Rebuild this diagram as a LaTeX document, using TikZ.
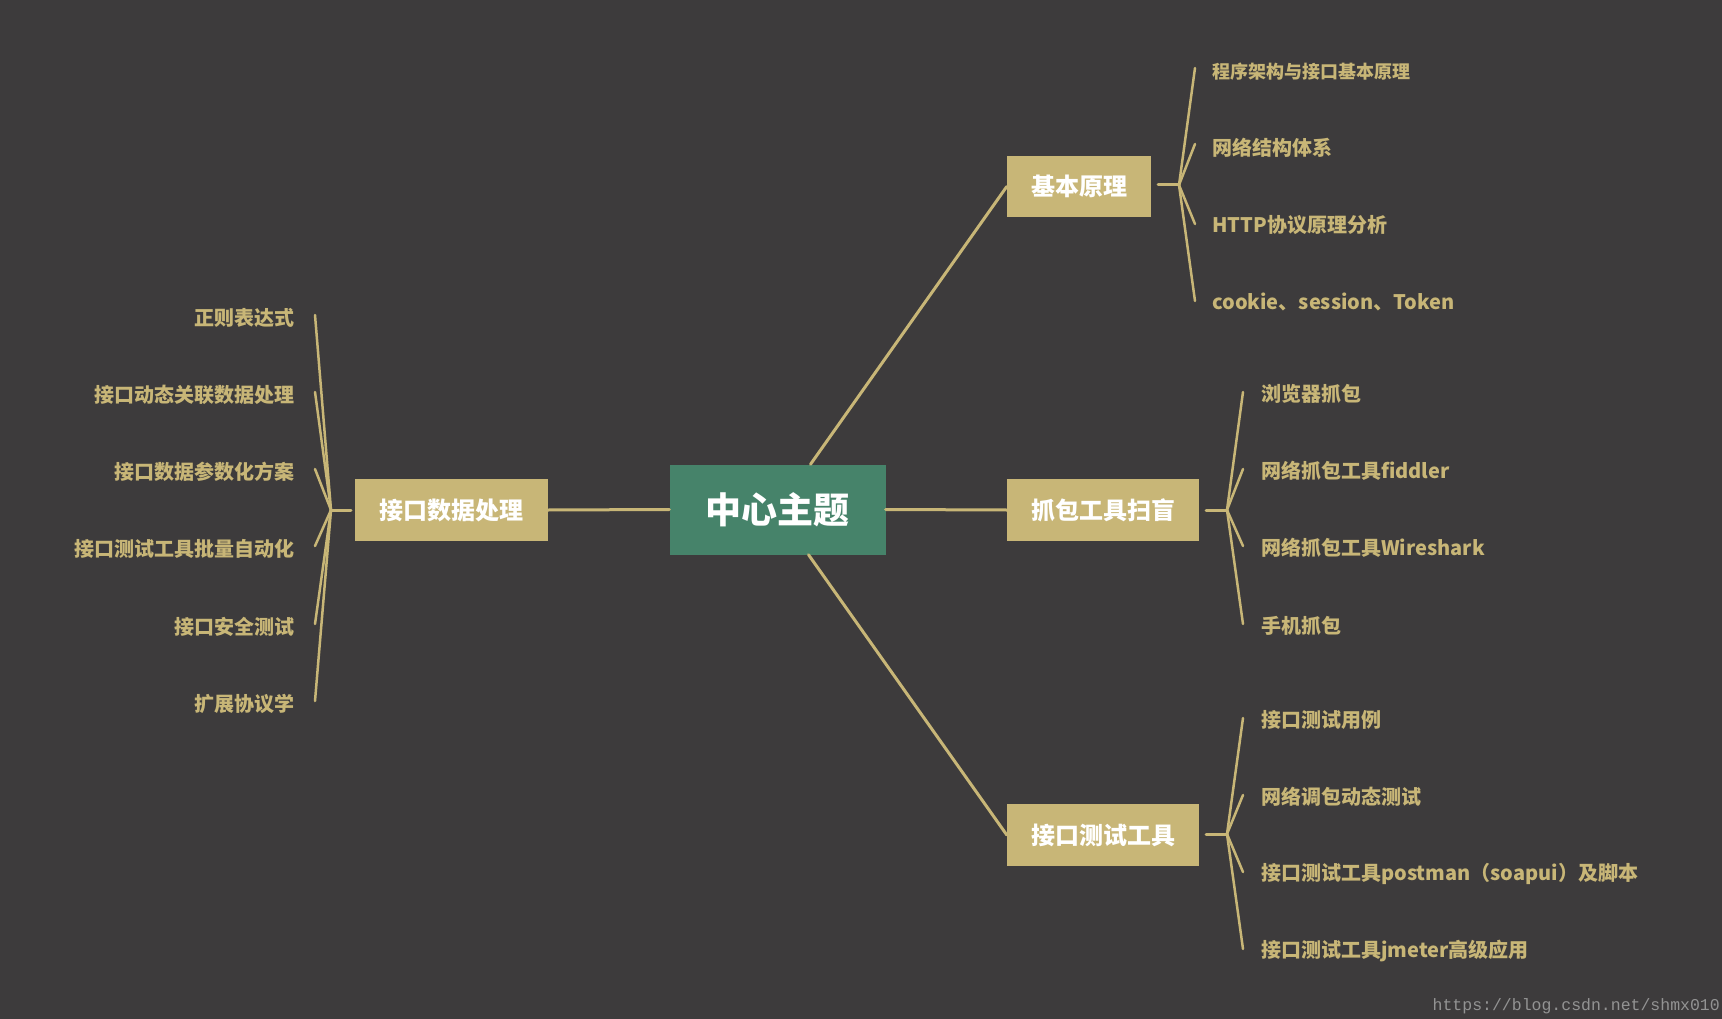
\documentclass[tikz,border=0pt]{standalone}
\usepackage{fontspec}
\newfontfamily\cjk{Noto Sans CJK SC}
\newfontfamily\wm{Liberation Mono}
\definecolor{bg}{HTML}{3D3B3C}
\definecolor{gold}{HTML}{C8B677}
\definecolor{cgreen}{HTML}{46836A}
\begin{document}
\begin{tikzpicture}[x=1pt,y=-1pt,
  box/.style={fill=gold,text=white,font=\cjk\bfseries\fontsize{24}{26}\selectfont,inner sep=0pt},
  leaf/.style={text=gold,font=\cjk\bfseries\fontsize{20}{22}\selectfont,inner sep=0pt},
  ln/.style={draw=gold,line width=3pt,line cap=round}]
\fill[bg] (0,0) rectangle (1722,1019);
\useasboundingbox (0,0) rectangle (1722,1019);
\node[fill=cgreen,text=white,font=\cjk\bfseries\fontsize{36}{40}\selectfont,minimum width=216pt,minimum height=90pt,inner sep=0pt] (c) at (777.5,509.5) {中心主题};
\node[box,minimum width=144pt,minimum height=61pt] (a) at (1079,186.5) {基本原理};
\node[box,minimum width=192pt,minimum height=62pt] (b) at (1103,510) {抓包工具扫盲};
\node[box,minimum width=192pt,minimum height=62pt] (d) at (1103,835) {接口测试工具};
\node[box,minimum width=193pt,minimum height=62pt] (e) at (451.5,510) {接口数据处理};
\draw[ln] (c.north) ++(33,0) coordinate (c1) -- (a.west);
\draw[ln] (c.south) ++(31,0) coordinate (c2) -- (d.west);
\draw[ln] (c.east) -- (b.west);
\draw[ln] (c.west) -- (e.east);
% group a
\coordinate (ja) at (1179,185);
\draw[ln] (1158,185) -- (ja);
\foreach \y/\t [count=\i] in {68/程序架构与接口基本原理,144/网络结构体系,224/HTTP协议原理分析,301/cookie、session、Token}{
  \coordinate (ea\i) at (1195,\y);
  \draw[line width=2.5pt,gold,line cap=round] (ja) -- (ea\i);
}
\node[leaf,anchor=west,font=\cjk\bfseries\fontsize{18}{20}\selectfont] (a1) at (1212,72) {程序架构与接口基本原理};
\node[leaf,anchor=west] (a2) at (1212,148) {网络结构体系};
\node[leaf,anchor=west] (a3) at (1212,225) {HTTP协议原理分析};
\node[leaf,anchor=west] (a4) at (1212,302) {cookie、session、Token};
% group b
\coordinate (jb) at (1227,510);
\draw[ln] (1206,510) -- (jb);
\foreach \y/\t [count=\i] in {392/浏览器抓包,469/网络抓包工具fiddler,546/网络抓包工具Wireshark,624/手机抓包}{
  \coordinate (eb\i) at (1243,\y);
  \draw[line width=2.5pt,gold,line cap=round] (jb) -- (eb\i);
  \node[leaf,anchor=west] (b\i) at (1261,\y+2) {\t};
}
% group d
\coordinate (jd) at (1227,834);
\draw[ln] (1206,834) -- (jd);
\foreach \y/\t [count=\i] in {718/接口测试用例,795/网络调包动态测试,872/接口测试工具postman（soapui）及脚本,949/接口测试工具jmeter高级应用}{
  \coordinate (ed\i) at (1243,\y);
  \draw[line width=2.5pt,gold,line cap=round] (jd) -- (ed\i);
  \node[leaf,anchor=west] (d\i) at (1261,\y+2) {\t};
}
% group e
\coordinate (je) at (331,510);
\draw[ln] (351,510) -- (je);
\foreach \y/\t [count=\i] in {315/正则表达式,392/接口动态关联数据处理,469/接口数据参数化方案,546/接口测试工具批量自动化,624/接口安全测试,701/扩展协议学}{
  \coordinate (ee\i) at (315,\y);
  \draw[line width=2.5pt,gold,line cap=round] (je) -- (ee\i);
  \node[leaf,anchor=east] (e\i) at (295,\y+3) {\t};
}
\node[anchor=south east,text=gray!85,font=\wm\fontsize{16.5}{18}\selectfont,inner sep=0pt] (w) at (1720,1014) {https://blog.csdn.net/shmx010};
\end{tikzpicture}
\end{document}
